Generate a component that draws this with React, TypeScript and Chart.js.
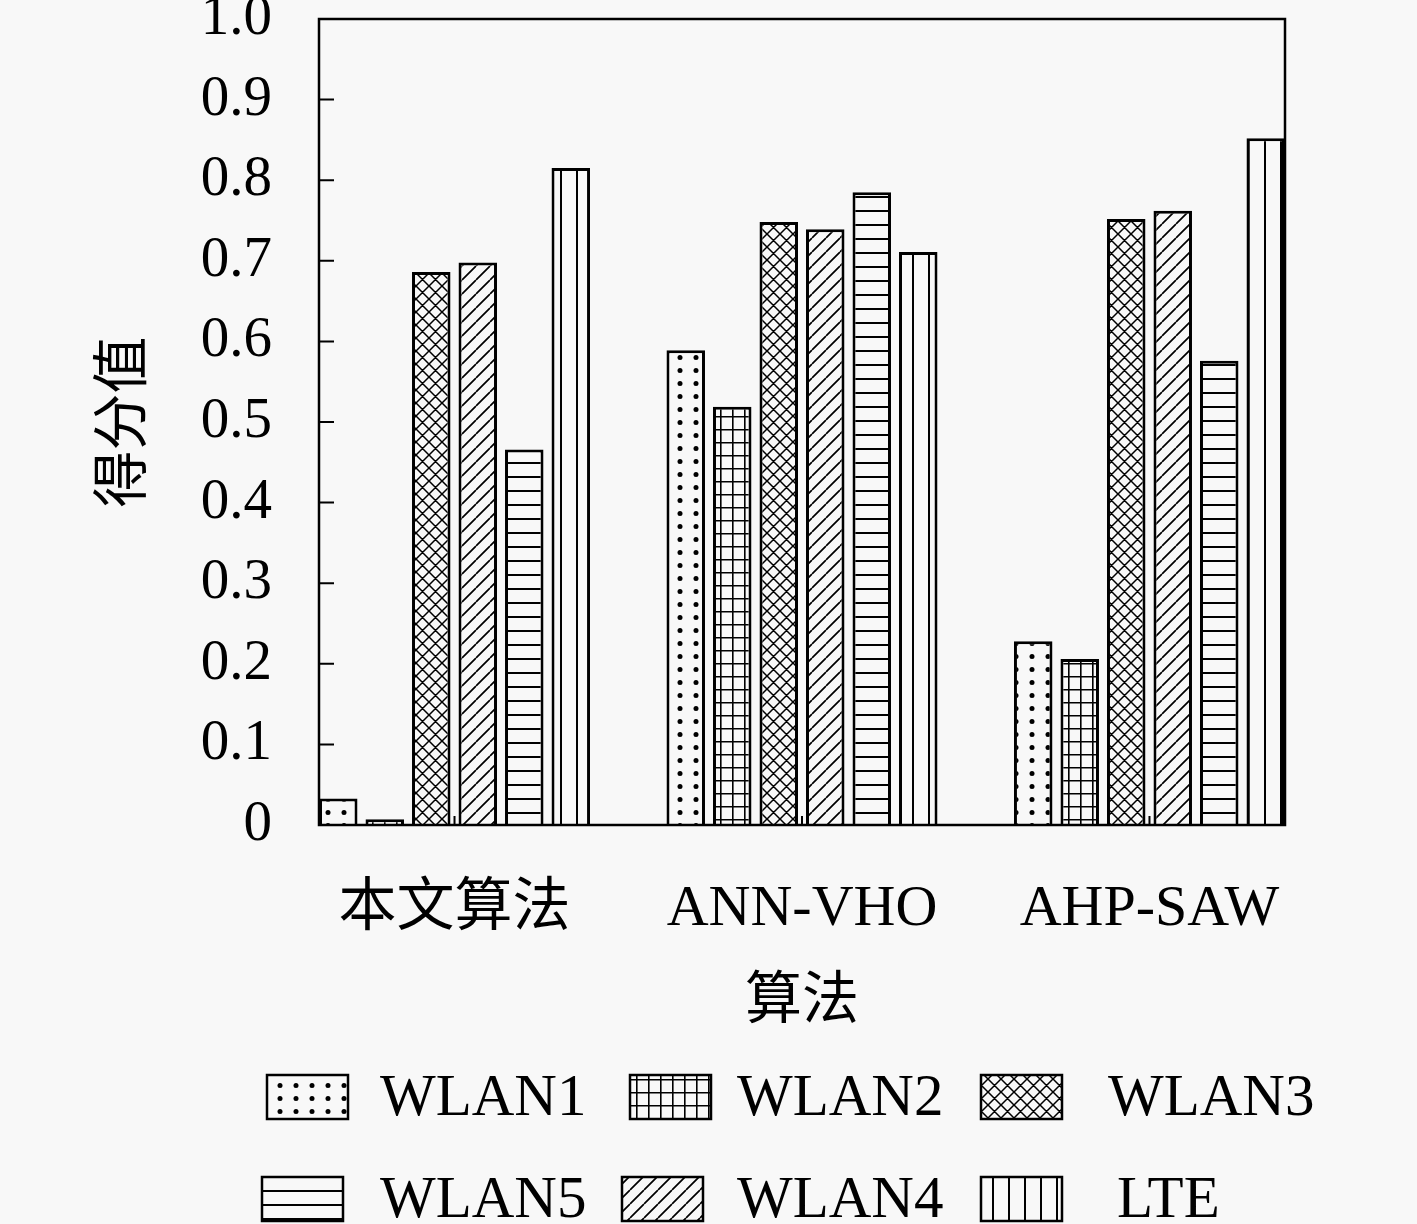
import React, { useEffect, useRef } from "react";
import { Chart, registerables } from "chart.js";

Chart.register(...registerables);

const categories = ["本文算法", "ANN-VHO", "AHP-SAW"];
const seriesNames = ["WLAN1", "WLAN2", "WLAN3", "WLAN4", "WLAN5", "LTE"];
const wlan1 = [0.033, 0.589, 0.228];
const wlan2 = [0.007, 0.519, 0.206];
const wlan3 = [0.686, 0.748, 0.752];
const wlan4 = [0.698, 0.739, 0.762];
const wlan5 = [0.466, 0.785, 0.576];
const lte = [0.815, 0.711, 0.852];
const yTicks = [0, 0.1, 0.2, 0.3, 0.4, 0.5, 0.6, 0.7, 0.8, 0.9, 1.0];

// legend is laid out as two rows of three, WLAN5 before WLAN4
const legendOrder = [0, 1, 2, 4, 3, 5];
const legendPatchX = [
  [267, 630, 981],
  [262, 622, 981],
];
const legendTextX = [
  [380, 737, 1108],
  [380, 737, 1117],
];
const legendRowY = [1097, 1199];

const FONT = '"Liberation Serif", "Noto Sans CJK SC", serif';
const BG = "#f8f8f8";

type Kind = "dots" | "grid" | "cross" | "diag" | "horiz" | "vert";
const patternKinds: Kind[] = ["dots", "grid", "cross", "diag", "horiz", "vert"];

function makePattern(ctx: CanvasRenderingContext2D, kind: Kind) {
  const sizes: Record<Kind, [number, number]> = {
    dots: [16, 13],
    grid: [12, 13],
    cross: [13, 13],
    diag: [14, 14],
    horiz: [4, 14],
    vert: [16, 4],
  };
  const [w, h] = sizes[kind];
  const tile = document.createElement("canvas");
  tile.width = w;
  tile.height = h;
  const t = tile.getContext("2d")!;
  t.fillStyle = BG;
  t.fillRect(0, 0, w, h);
  t.strokeStyle = "#000";
  t.fillStyle = "#000";
  t.lineWidth = 1.6;
  t.beginPath();
  if (kind === "dots") {
    t.arc(w / 2, h / 2, 2.5, 0, Math.PI * 2);
    t.fill();
  } else if (kind === "grid") {
    t.moveTo(0.8, 0);
    t.lineTo(0.8, h);
    t.moveTo(0, 0.8);
    t.lineTo(w, 0.8);
    t.stroke();
  } else if (kind === "cross") {
    for (let k = -1; k <= 1; k++) {
      t.moveTo(k * w, h);
      t.lineTo(k * w + w, 0);
      t.moveTo(k * w, 0);
      t.lineTo(k * w + w, h);
    }
    t.lineWidth = 1.5;
    t.stroke();
  } else if (kind === "diag") {
    for (let k = -1; k <= 1; k++) {
      t.moveTo(k * w, h);
      t.lineTo(k * w + w, 0);
    }
    t.lineWidth = 1.7;
    t.stroke();
  } else if (kind === "horiz") {
    t.moveTo(0, 1);
    t.lineTo(w, 1);
    t.lineWidth = 2;
    t.stroke();
  } else {
    t.moveTo(1, 0);
    t.lineTo(1, h);
    t.lineWidth = 2;
    t.stroke();
  }
  return ctx.createPattern(tile, "repeat")!;
}

const framePlugin = {
  id: "frame",
  afterDraw(chart: any) {
    const { ctx, chartArea: a, scales } = chart;
    ctx.save();
    ctx.strokeStyle = "#000";
    ctx.lineWidth = 2.5;
    ctx.strokeRect(a.left, a.top, a.right - a.left, a.bottom - a.top);
    ctx.lineWidth = 2;
    ctx.beginPath();
    yTicks.forEach((v) => {
      if (v <= 0 || v >= 1) return;
      const y = scales.y.getPixelForValue(v);
      ctx.moveTo(a.left, y);
      ctx.lineTo(a.left + 15, y);
    });
    categories.forEach((_, i) => {
      const x = scales.x.getPixelForValue(i);
      ctx.moveTo(x, a.bottom);
      ctx.lineTo(x, a.bottom - 9);
    });
    ctx.stroke();
    ctx.restore();
  },
};

const legendPlugin = {
  id: "gridLegend",
  afterDraw(chart: any) {
    const { ctx } = chart;
    const datasets = chart.data.datasets;
    ctx.save();
    ctx.font = `59px ${FONT}`;
    ctx.textBaseline = "middle";
    ctx.textAlign = "left";
    legendOrder.forEach((di, n) => {
      const row = Math.floor(n / 3);
      const col = n % 3;
      const px = legendPatchX[row][col];
      const cy = legendRowY[row];
      ctx.fillStyle = datasets[di].backgroundColor;
      ctx.fillRect(px, cy - 22, 81, 44);
      ctx.strokeStyle = "#000";
      ctx.lineWidth = 2.5;
      ctx.strokeRect(px, cy - 22, 81, 44);
      ctx.fillStyle = "#000";
      ctx.fillText(datasets[di].label, legendTextX[row][col], cy + 2);
    });
    ctx.restore();
  },
};

const App: React.FC = () => {
  const canvasRef = useRef<HTMLCanvasElement | null>(null);
  const chartRef = useRef<Chart | null>(null);

  useEffect(() => {
    if (!canvasRef.current) return;
    const ctx = canvasRef.current.getContext("2d");
    if (!ctx) return;
    if (chartRef.current) chartRef.current.destroy();

    const values = [wlan1, wlan2, wlan3, wlan4, wlan5, lte];
    const datasets = seriesNames.map((name, i) => ({
      label: name,
      data: values[i].map((v, j) => ({ x: j, y: v })),
      backgroundColor: makePattern(ctx, patternKinds[i]) as any,
      borderColor: "#000",
      borderWidth: 3,
      categoryPercentage: 0.803,
      barPercentage: 0.828,
    }));

    const tickFont = { family: FONT, size: 57 };
    const catFont = { family: FONT, size: 58 };

    chartRef.current = new Chart(ctx, {
      type: "bar",
      data: { datasets },
      options: {
        animation: false,
        responsive: false,
        layout: { padding: { left: 0, top: 19, right: 132, bottom: 187 } },
        plugins: {
          legend: { display: false },
          tooltip: { enabled: false },
        },
        scales: {
          x: {
            type: "linear",
            min: -0.39,
            max: 2.39,
            offset: false,
            grid: { display: false, drawTicks: false },
            border: { display: false },
            afterBuildTicks: (s: any) => {
              s.ticks = categories.map((_, i) => ({ value: i }));
            },
            ticks: {
              callback: (v: any) => categories[v as number] ?? "",
              font: catFont,
              color: "#000",
              padding: 50,
              maxRotation: 0,
              autoSkip: false,
            },
            title: {
              display: true,
              text: "算法",
              font: tickFont,
              color: "#000",
              padding: { top: 0, bottom: 0 },
            },
            afterFit: (s: any) => {
              s.height = 212;
              s.paddingLeft = 0;
              s.paddingRight = 0;
            },
          },
          y: {
            type: "linear",
            min: 0,
            max: 1,
            grid: { display: false, drawTicks: false },
            border: { display: false },
            afterBuildTicks: (s: any) => {
              s.ticks = yTicks.map((v) => ({ value: v }));
            },
            ticks: {
              callback: (v: any) => (v === 0 ? "0" : Number(v).toFixed(1)),
              font: tickFont,
              color: "#000",
              padding: 47,
            },
            title: {
              display: true,
              text: "得分值",
              font: tickFont,
              color: "#000",
              padding: { top: 92, bottom: 0 },
            },
            afterFit: (s: any) => {
              s.width = 319;
              s.paddingTop = 0;
              s.paddingBottom = 0;
            },
          },
        },
      },
      plugins: [framePlugin, legendPlugin],
    });

    return () => {
      if (chartRef.current) {
        chartRef.current.destroy();
        chartRef.current = null;
      }
    };
  }, []);

  return (
    <div
      style={{
        position: "fixed",
        left: 0,
        top: 0,
        width: 1417,
        height: 1224,
        background: BG,
        overflow: "hidden",
      }}
    >
      <canvas ref={canvasRef} width={1417} height={1224} style={{ display: "block" }} />
    </div>
  );
};

export default App;
